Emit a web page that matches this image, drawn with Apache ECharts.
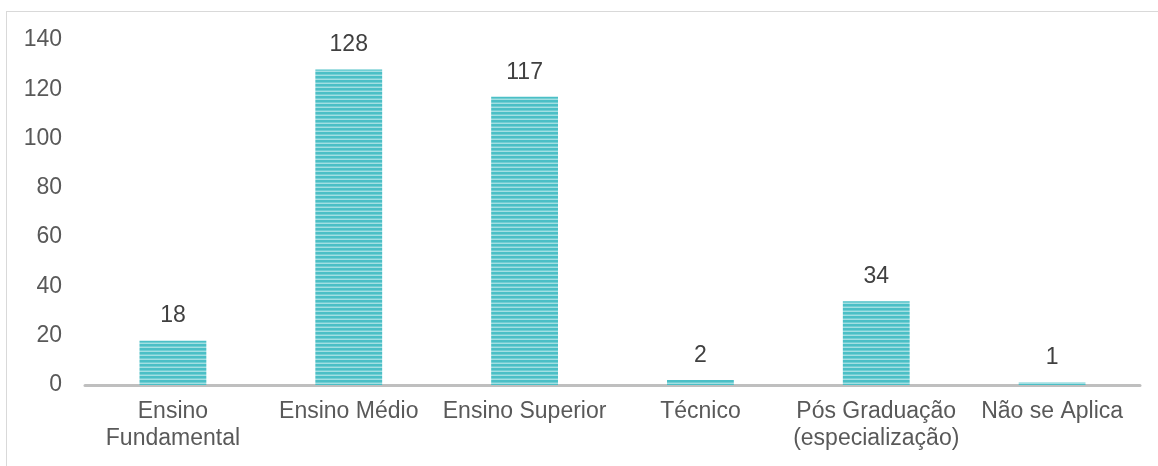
<!DOCTYPE html>
<html><head><meta charset="utf-8">
<script src="https://cdn.jsdelivr.net/npm/echarts@6/dist/echarts.min.js"></script>
<style>
html,body{margin:0;padding:0;background:#fff;}
#frame{position:absolute;left:6px;top:11px;width:1160px;height:470px;border-top:1px solid #d9d9d9;border-left:1px solid #d9d9d9;}
#c{position:absolute;left:0;top:0;width:1158px;height:466px;}
</style></head>
<body>
<div id="frame"></div>
<div id="c"></div>
<script>
var categories = ['Ensino\nFundamental','Ensino Médio','Ensino Superior','Técnico','Pós Graduação\n(especialização)','Não se Aplica'];
var values = [18, 128, 117, 2, 34, 1];
var yTicks = {min:0, max:140, interval:20};

var cv = document.createElement('canvas');
cv.width = 4; cv.height = 4;
var ctx = cv.getContext('2d');
ctx.fillStyle = '#a3dfe2'; ctx.fillRect(0,0,4,4);
ctx.fillStyle = '#4bbfc6'; ctx.fillRect(0,0,4,2);
ctx.fillStyle = '#72ced3'; ctx.fillRect(0,2,4,1);

var F = 'Liberation Sans, Arial, sans-serif';
var chart = echarts.init(document.getElementById('c'), null, {renderer:'canvas'});
chart.setOption({
  animation:false,
  grid:{left:85, right:18, top:40, bottom:81},
  xAxis:{type:'category', data:categories,
    axisLine:{lineStyle:{color:'#bfbfbf', width:3}},
    axisTick:{show:false},
    axisLabel:{color:'#595959', fontFamily:F, fontSize:23, margin:13, lineHeight:27, interval:0}
  },
  yAxis:{type:'value', min:yTicks.min, max:yTicks.max, interval:yTicks.interval,
    splitLine:{show:false}, axisLine:{show:false}, axisTick:{show:false},
    axisLabel:{color:'#595959', fontFamily:F, fontSize:23, margin:23}
  },
  series:[{type:'bar', data:values, barWidth:'38%',
    itemStyle:{color:{image:cv, repeat:'repeat'}},
    label:{show:true, position:'top', distance:13, color:'#404040', fontFamily:F, fontSize:23}
  }]
});
</script>
</body></html>
